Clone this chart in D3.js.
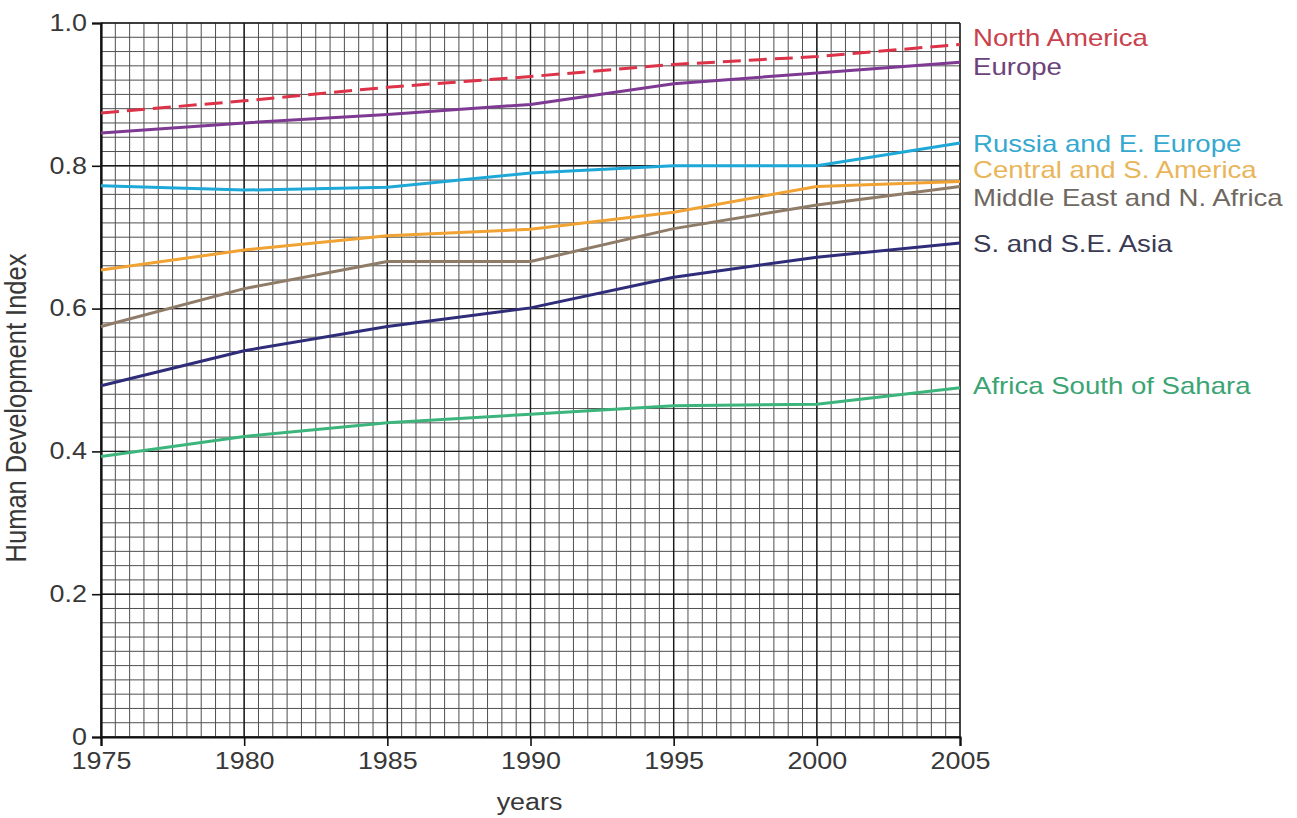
<!DOCTYPE html>
<html>
<head>
<meta charset="utf-8">
<script src="https://cdn.jsdelivr.net/npm/d3@7"></script>
<style>
  html, body { margin: 0; padding: 0; background: #fff; }
  svg { display: block; }
  text { font-family: "Liberation Sans", Arial, Helvetica, sans-serif; }
</style>
</head>
<body>
<svg id="chart" width="1297" height="818"></svg>
<script>
// ---- data ----
const years = [1975, 1980, 1985, 1990, 1995, 2000, 2005];
const seriesNames = ["North America", "Europe", "Russia and E. Europe", "Central and S. America",
                     "Middle East and N. Africa", "S. and S.E. Asia", "Africa South of Sahara"];
const northAmerica = [0.874, 0.891, 0.910, 0.925, 0.942, 0.953, 0.970];
const europe       = [0.846, 0.860, 0.872, 0.886, 0.915, 0.930, 0.945];
const russia       = [0.772, 0.766, 0.770, 0.790, 0.800, 0.800, 0.832];
const centralSA    = [0.654, 0.682, 0.702, 0.711, 0.735, 0.771, 0.778];
const middleEast   = [0.575, 0.628, 0.666, 0.666, 0.712, 0.745, 0.771];
const southAsia    = [0.492, 0.541, 0.575, 0.601, 0.644, 0.672, 0.692];
const africa       = [0.393, 0.421, 0.440, 0.452, 0.464, 0.466, 0.489];
const seriesValues = [northAmerica, europe, russia, centralSA, middleEast, southAsia, africa];
const yTickLabels = ["0", "0.2", "0.4", "0.6", "0.8", "1.0"];
const yTickValues = [0, 0.2, 0.4, 0.6, 0.8, 1.0];

// ---- styles ----
const lineColors  = ["#dc3348", "#7e3a92", "#1ea8d8", "#f0a232", "#8f7c68", "#2f2c7a", "#3cb57c"];
const labelColors = ["#c9414c", "#6b4379", "#34a9cf", "#e9b55a", "#6e6861", "#3a3a52", "#3ba473"];
const dashes      = ["18,8", null, null, null, null, null, null];
const labelOffset = [-6.5, 4.5, 0.5, -11.5, 11.5, 1, -2]; // px offsets of end labels
const stretch = 1.2;

const margin = {left: 101, top: 23, right: 337, bottom: 81};
const W = 1297, H = 818;
const iw = W - margin.left - margin.right;
const ih = H - margin.top - margin.bottom;

const svg = d3.select("#chart");
const g = svg.append("g").attr("transform", `translate(${margin.left},${margin.top})`);

const x = d3.scaleLinear().domain([1975, 2005]).range([0, iw]);
const y = d3.scaleLinear().domain([0, 1]).range([ih, 0]);

// minor grid
const minorX = d3.range(1975, 2005.001, 0.5);
const minorY = d3.range(0, 1.0001, 0.02);
g.append("g").selectAll("line").data(minorX).join("line")
  .attr("x1", d => x(d)).attr("x2", d => x(d)).attr("y1", 0).attr("y2", ih)
  .attr("stroke", "#4f4f4f").attr("stroke-width", 1);
g.append("g").selectAll("line").data(minorY).join("line")
  .attr("y1", d => y(d)).attr("y2", d => y(d)).attr("x1", 0).attr("x2", iw)
  .attr("stroke", "#4f4f4f").attr("stroke-width", 1);
// major grid
g.append("g").selectAll("line").data(years).join("line")
  .attr("x1", d => x(d)).attr("x2", d => x(d)).attr("y1", 0).attr("y2", ih)
  .attr("stroke", "#1a1a1a").attr("stroke-width", 1.4);
g.append("g").selectAll("line").data(yTickValues).join("line")
  .attr("y1", d => y(d)).attr("y2", d => y(d)).attr("x1", 0).attr("x2", iw)
  .attr("stroke", "#1a1a1a").attr("stroke-width", 1.4);

// axes
const xAxis = g.append("g").attr("transform", `translate(0,${ih})`)
  .call(d3.axisBottom(x).tickValues(years).tickFormat(d3.format("d")).tickSize(9).tickPadding(6));
const yAxis = g.append("g")
  .call(d3.axisLeft(y).tickValues(yTickValues).tickFormat((d, i) => yTickLabels[i]).tickSize(9).tickPadding(5));
[xAxis, yAxis].forEach(a => {
  a.select(".domain").attr("stroke", "#111").attr("stroke-width", 2.2);
  a.selectAll(".tick line").attr("stroke", "#111").attr("stroke-width", 1.6);
  a.selectAll(".tick text").attr("font-size", 23).attr("fill", "#383838")
    .attr("font-family", '"Liberation Sans", Arial, sans-serif');
});
xAxis.selectAll(".tick text").attr("transform", "scale(1.17,1)").attr("dy", "0.75em");
yAxis.selectAll(".tick text").attr("transform", "scale(1.17,1)").attr("x", -14 / 1.17);

// lines
const line = d3.line().x((d, i) => x(years[i])).y(d => y(d));
seriesValues.forEach((vals, k) => {
  g.append("path").datum(vals)
    .attr("d", line)
    .attr("fill", "none")
    .attr("stroke", lineColors[k])
    .attr("stroke-width", 3)
    .attr("stroke-linejoin", "round")
    .attr("stroke-dasharray", dashes[k]);
});

// end labels
seriesNames.forEach((name, k) => {
  const last = seriesValues[k][seriesValues[k].length - 1];
  g.append("text")
    .attr("transform", `translate(${iw + 13},${y(last) + labelOffset[k]}) scale(${stretch},1)`)
    .attr("dy", "0.35em")
    .attr("font-size", 23)
    .attr("fill", labelColors[k])
    .text(name);
});

// axis titles
g.append("text")
  .attr("transform", `translate(${iw / 2 - 1},${ih + 73}) scale(1.17,1)`)
  .attr("text-anchor", "middle").attr("font-size", 23).attr("fill", "#383838")
  .text("years");
g.append("text")
  .attr("transform", `translate(${-75},${ih / 2 + 28}) rotate(-90) scale(1,1.15)`)
  .attr("text-anchor", "middle").attr("font-size", 25.5).attr("fill", "#383838")
  .text("Human Development Index");
</script>
</body>
</html>
